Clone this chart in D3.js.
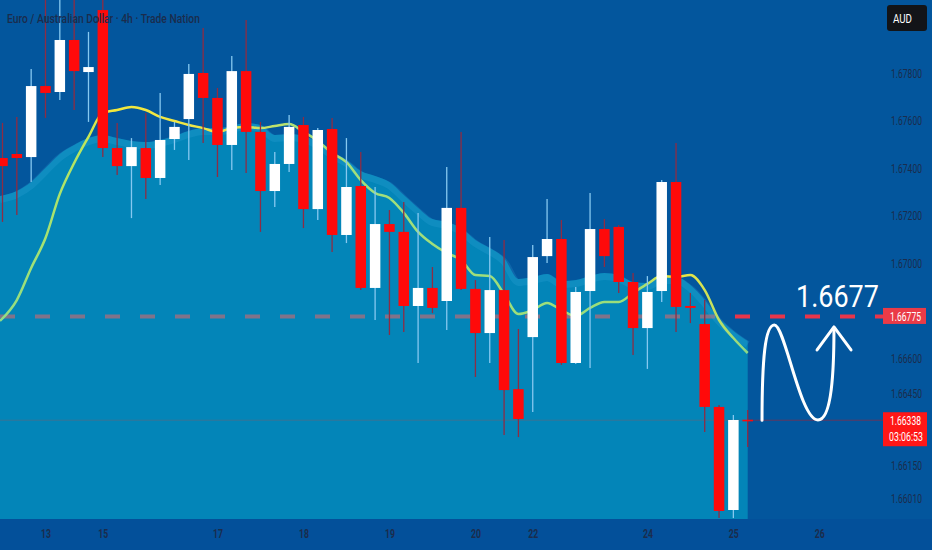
<!DOCTYPE html>
<html>
<head>
<meta charset="utf-8">
<script src="https://cdn.jsdelivr.net/npm/d3@7"></script>
<style>
  body { margin: 0; background: #03569d; }
  svg { display: block; }
  .lbl { font-family: Roboto, "DejaVu Sans", sans-serif; }
</style>
</head>
<body>
<svg id="chart" width="932" height="550"></svg>
<script>
// 4h candles
const opens  = [1.67442,1.67459,1.67446,1.67745,1.67720,1.67939,1.67804,1.68065,1.67484,1.67408,1.67484,1.67358,1.67522,1.67606,1.67800,1.67695,1.67497,1.67808,1.67552,1.67303,1.67417,1.67581,1.67227,1.67564,1.67118,1.67324,1.66895,1.67164,1.67131,1.66819,1.66895,1.66840,1.67232,1.66891,1.66705,1.66886,1.66469,1.66688,1.67029,1.67101,1.66579,1.66882,1.67143,1.67152,1.66920,1.66726,1.66882,1.67341,1.66819,1.66743,1.66394,1.65960,1.66340];
const highs  = [1.67590,1.67615,1.67817,1.68120,1.68120,1.68110,1.67973,1.68110,1.67590,1.67526,1.67632,1.67716,1.67594,1.67838,1.67989,1.67737,1.67872,1.68023,1.67594,1.67467,1.67623,1.67615,1.67568,1.67611,1.67526,1.67467,1.67320,1.67223,1.67257,1.67211,1.66983,1.67404,1.67552,1.66928,1.67109,1.67097,1.66722,1.67076,1.67269,1.67181,1.66899,1.67295,1.67185,1.67160,1.66958,1.66945,1.67349,1.67505,1.66874,1.66844,1.66402,1.66360,1.66381];
const lows   = [1.67173,1.67202,1.67341,1.67611,1.67686,1.67644,1.67594,1.67446,1.67371,1.67189,1.67269,1.67328,1.67476,1.67434,1.67505,1.67362,1.67392,1.67379,1.67131,1.67236,1.67383,1.67147,1.67181,1.67046,1.67084,1.66886,1.66760,1.66697,1.66709,1.66579,1.66789,1.66718,1.66886,1.66520,1.66579,1.66276,1.66267,1.66373,1.67000,1.66571,1.66575,1.66558,1.66983,1.66874,1.66613,1.66554,1.66836,1.66709,1.66747,1.66288,1.65926,1.65926,1.66225];
const closes = [1.67408,1.67442,1.67745,1.67716,1.67939,1.67808,1.67825,1.67484,1.67408,1.67488,1.67358,1.67518,1.67573,1.67796,1.67695,1.67497,1.67808,1.67552,1.67303,1.67417,1.67573,1.67227,1.67560,1.67118,1.67320,1.66895,1.67164,1.67131,1.66819,1.66895,1.66811,1.67232,1.66891,1.66705,1.66886,1.66465,1.66343,1.67025,1.67101,1.66579,1.66878,1.67143,1.67029,1.66920,1.66726,1.66878,1.67341,1.66815,1.66811,1.66394,1.65956,1.66339,1.66338];

// moving average line and upper band of the shaded cloud
const maValues   = [1.66756,1.66844,1.66979,1.67105,1.67291,1.67421,1.67531,1.67632,1.67644,1.67657,1.67644,1.67615,1.67598,1.67581,1.67568,1.67552,1.67568,1.67573,1.67568,1.67577,1.67585,1.67552,1.67514,1.67463,1.67425,1.67349,1.67295,1.67274,1.67211,1.67131,1.67080,1.67042,1.67013,1.66949,1.66945,1.66869,1.66785,1.66802,1.66832,1.66802,1.66777,1.66811,1.66836,1.66836,1.66874,1.66912,1.66945,1.66941,1.66949,1.66886,1.66760,1.66684,1.66621];
const bandValues = [1.67282,1.67303,1.67341,1.67400,1.67459,1.67497,1.67526,1.67539,1.67526,1.67514,1.67509,1.67518,1.67535,1.67556,1.67568,1.67568,1.67577,1.67589,1.67581,1.67539,1.67543,1.67535,1.67509,1.67467,1.67434,1.67387,1.67366,1.67341,1.67286,1.67232,1.67185,1.67173,1.67147,1.67097,1.67063,1.67021,1.66933,1.66941,1.66954,1.66924,1.66928,1.66945,1.66958,1.66949,1.66920,1.66916,1.66941,1.66941,1.66907,1.66844,1.66768,1.66714,1.66672];

// 1.66800 sits under the red target label, so it is left out
const yTicks = [1.678, 1.676, 1.674, 1.672, 1.670, 1.666, 1.6645, 1.6615, 1.6601];
const xTickIndex  = [3, 7, 15, 21, 27, 33, 37, 45, 51, 57];
const xTickLabels = ["13", "15", "17", "18", "19", "20", "22", "24", "25", "26"];

const title = "Euro / Australian Dollar · 4h · Trade Nation";
const targetPrice = 1.66775;
const targetText = "1.6677";
const lastPrice = 1.66338;
const countdown = "03:06:53";

// sketch drawn on the right: [candle index, price]
const wave = [[53.0, 1.66338], [53.0, 1.66592], [53.21, 1.66739], [53.86, 1.66739],
              [54.6, 1.66739], [55.65, 1.66339], [56.9, 1.66339],
              [57.88, 1.66339], [58.02, 1.66549], [58.02, 1.66726]];
const arrowHead = [[56.84, 1.66634], [58.02, 1.66731], [59.21, 1.66634]];

const width = 932, height = 550;
const plotBottom = 519, axisX = 891, priceBoxX = 883;

const x = d3.scaleLinear().domain([0, 52]).range([2.5, 747.7]);
const y = d3.scaleLinear().domain([1.666, 1.678]).range([358, 73]);
const bodyW = 10.5;
const fmt = d3.format(".5f");

// lettering in the picture is very narrow: squeeze each text to a width
function fit(sel, w) {
    sel.each(function () {
        const len = this.getComputedTextLength();
        if (len > 0) d3.select(this).attr("transform", `scale(${w / len},1)`);
    });
}

function label(px, py, str, size, w, color, weight) {
    const t = svg.append("g").attr("transform", `translate(${px},${py})`)
        .append("text").attr("class", "lbl")
        .attr("font-size", size).attr("fill", color)
        .attr("font-weight", weight || "normal")
        .text(str);
    fit(t, w);
    return t;
}

const svg = d3.select("#chart");

svg.append("rect").attr("width", width).attr("height", height).attr("fill", "#03569d");
svg.append("rect").attr("y", plotBottom).attr("width", width).attr("height", height - plotBottom).attr("fill", "#03509a");

// lines behind the cloud
svg.append("line")
    .attr("x1", 0).attr("x2", priceBoxX)
    .attr("y1", y(lastPrice)).attr("y2", y(lastPrice))
    .attr("stroke", "#7a3050").attr("stroke-width", 1).attr("opacity", 0.8);

svg.append("line")
    .attr("x1", 0).attr("x2", priceBoxX)
    .attr("y1", y(targetPrice)).attr("y2", y(targetPrice))
    .attr("stroke", "#e8354a").attr("stroke-width", 4)
    .attr("stroke-dasharray", "15,20");

// cloud
const idxX = (d, i) => i === 0 ? 0 : x(i);
const area = d3.area()
    .x(idxX)
    .y0(plotBottom)
    .y1(d => y(d))
    .curve(d3.curveMonotoneX);

svg.append("path")
    .datum(bandValues)
    .attr("d", area)
    .attr("fill", "#05beda")
    .attr("fill-opacity", 0.45);

const bandLine = d3.line().x(idxX).y(d => y(d) + 3.5).curve(d3.curveMonotoneX);
svg.append("path")
    .datum(bandValues)
    .attr("d", bandLine)
    .attr("fill", "none")
    .attr("stroke", "#4ab4ea")
    .attr("stroke-opacity", 0.18)
    .attr("stroke-width", 7);

// moving average
const grad = svg.append("defs").append("linearGradient")
    .attr("id", "maGrad").attr("gradientUnits", "userSpaceOnUse")
    .attr("x1", 0).attr("x2", 750).attr("y1", 0).attr("y2", 0);
[[0, "#8fdd86"], [0.11, "#b8e660"], [0.14, "#f3e83a"], [0.28, "#eee64a"], [0.34, "#cfe462"],
 [0.41, "#a3df7c"], [0.85, "#9ade7a"], [0.89, "#e8e642"], [0.93, "#dfe34c"], [1, "#86d98a"]]
    .forEach(s => grad.append("stop").attr("offset", s[0]).attr("stop-color", s[1]));

const maLine = d3.line().x(idxX).y(d => y(d)).curve(d3.curveMonotoneX);
svg.append("path")
    .datum(maValues)
    .attr("d", maLine)
    .attr("fill", "none")
    .attr("stroke", "url(#maGrad)")
    .attr("stroke-width", 2.5);

// candles
const candles = opens.map((o, i) => ({ i, o, h: highs[i], l: lows[i], c: closes[i], up: closes[i] > o }));

const g = svg.append("g").selectAll("g.candle")
    .data(candles)
    .enter().append("g")
    .attr("class", "candle");

g.append("line")
    .attr("x1", d => x(d.i)).attr("x2", d => x(d.i))
    .attr("y1", d => y(d.h)).attr("y2", d => y(d.l))
    .attr("stroke", d => d.up ? "#86c8f0" : "#8e2c44")
    .attr("stroke-width", 1.3);

g.append("rect")
    .attr("x", d => x(d.i) - bodyW / 2)
    .attr("width", bodyW)
    .attr("y", d => y(Math.max(d.o, d.c)))
    .attr("height", d => Math.max(1.6, Math.abs(y(d.o) - y(d.c))))
    .attr("fill", d => d.up ? "#ffffff" : "#ff0a0a");

// axes
const yAxis = d3.axisRight(y).tickValues(yTicks).tickFormat(fmt).tickSize(0).tickPadding(0);
const ya = svg.append("g").attr("transform", `translate(${axisX},0)`).call(yAxis);
ya.select(".domain").remove();
ya.selectAll("text").attr("class", "lbl").attr("font-size", 13).attr("fill", "#1b2c4c")
    .call(fit, 31);

const xAxis = d3.axisBottom(x).tickValues(xTickIndex).tickFormat((d, i) => xTickLabels[i]).tickSize(0).tickPadding(0);
const xa = svg.append("g").attr("transform", `translate(0,${plotBottom + 10})`).call(xAxis);
xa.select(".domain").remove();
xa.selectAll("text").attr("class", "lbl").attr("font-size", 13).attr("font-weight", "bold").attr("fill", "#1b2c4c")
    .call(fit, 10);

// price boxes
svg.append("rect")
    .attr("x", priceBoxX).attr("y", y(targetPrice) - 8.5)
    .attr("width", 43).attr("height", 16)
    .attr("fill", "#ea3b47");
label(priceBoxX + 7, y(targetPrice) + 4.5, fmt(targetPrice), 12.5, 31, "#fff");

svg.append("rect")
    .attr("x", priceBoxX).attr("y", y(lastPrice) - 8)
    .attr("width", 44).attr("height", 34)
    .attr("fill", "#ff1717");
label(priceBoxX + 7, y(lastPrice) + 5, fmt(lastPrice), 12.5, 31, "#fff");
label(priceBoxX + 6, y(lastPrice) + 20.5, countdown, 12.5, 34, "#fff");

svg.append("rect")
    .attr("x", 887).attr("y", 5).attr("width", 40).attr("height", 26).attr("rx", 3)
    .attr("fill", "#121418");
label(893, 23, "AUD", 13, 19, "#fff");

// title
label(7, 22.5, title, 13.5, 193, "#1b2c4c", 500);

// annotation
label(796, y(targetPrice) - 9, targetText, 32, 83, "#fff");

const wp = wave.map(p => [x(p[0]), y(p[1])]);
const path = d3.path();
path.moveTo(wp[0][0], wp[0][1]);
for (let k = 1; k + 2 < wp.length; k += 3) {
    path.bezierCurveTo(wp[k][0], wp[k][1], wp[k + 1][0], wp[k + 1][1], wp[k + 2][0], wp[k + 2][1]);
}
svg.append("path")
    .attr("d", path.toString())
    .attr("fill", "none").attr("stroke", "#fff").attr("stroke-width", 3)
    .attr("stroke-linecap", "round");

svg.append("path")
    .attr("d", d3.line().x(p => x(p[0])).y(p => y(p[1]))(arrowHead))
    .attr("fill", "none").attr("stroke", "#fff").attr("stroke-width", 3)
    .attr("stroke-linecap", "round").attr("stroke-linejoin", "round");
</script>
</body>
</html>
